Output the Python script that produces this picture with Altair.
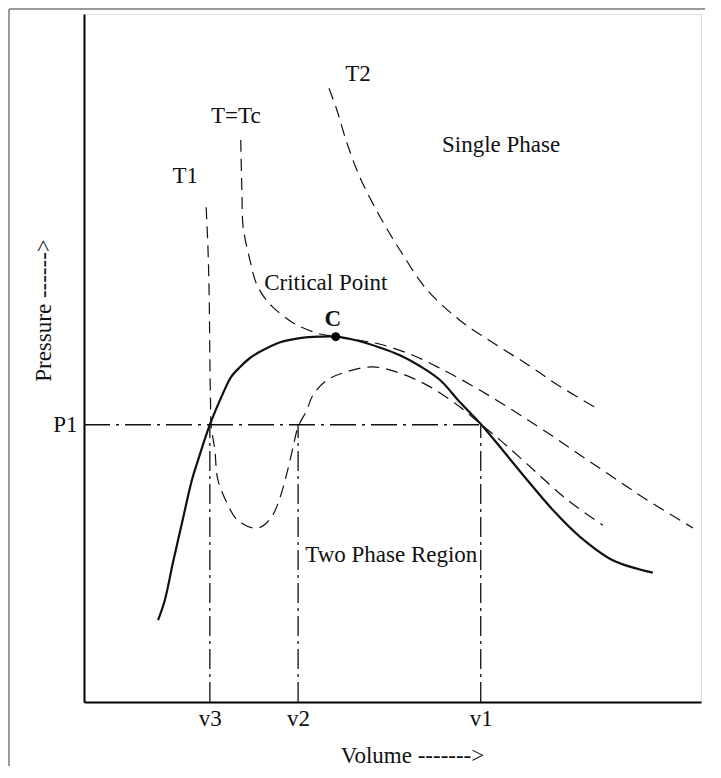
import altair as alt
import pandas as pd

# ---- values (volume / pressure in arbitrary units 0-10) ----
sat_v = [1.20, 1.31, 1.44, 1.60, 1.75, 1.85, 2.04, 2.26, 2.38, 2.53, 2.69, 2.85, 3.18,
         3.50, 3.82, 4.08, 4.44, 4.80, 5.12, 5.45, 5.77, 6.09, 6.43, 6.74, 7.18, 7.60, 8.04,
         8.57, 9.22]
sat_p = [1.19, 1.48, 2.02, 2.65, 3.23, 3.52, 4.03, 4.50, 4.72, 4.87, 5.00, 5.09, 5.23,
         5.29, 5.31, 5.31, 5.25, 5.15, 5.04, 4.88, 4.68, 4.36, 4.04, 3.71, 3.23, 2.79, 2.40,
         2.06, 1.88]

t1_v = [1.98, 2.01, 2.03, 2.04, 2.05, 2.06, 2.12, 2.17, 2.32, 2.48, 2.74, 2.90, 3.06, 3.18, 3.29,
        3.39, 3.47, 3.61, 3.71, 3.94, 4.26, 4.68, 5.12, 5.61, 6.09, 6.43, 6.74, 7.23, 7.83, 8.41]
t1_p = [7.19, 6.57, 5.84, 4.97, 4.39, 4.03, 3.66, 3.23, 2.89, 2.65, 2.53, 2.56, 2.72, 2.98, 3.33,
        3.71, 4.00, 4.24, 4.46, 4.68, 4.80, 4.87, 4.78, 4.58, 4.29, 4.04, 3.81, 3.42, 2.94, 2.57]

tc_v = [2.54, 2.56, 2.58, 2.69, 2.79, 2.93, 3.06, 3.39, 3.78, 4.08, 4.44, 4.80, 5.33, 5.88,
        6.42, 6.95, 7.50, 8.04, 8.57, 9.12, 9.87]
tc_p = [8.17, 7.40, 6.90, 6.42, 6.09, 5.87, 5.74, 5.51, 5.36, 5.31, 5.26, 5.20, 5.04, 4.80,
        4.53, 4.24, 3.92, 3.59, 3.27, 2.94, 2.53]

t2_v = [3.97, 4.10, 4.26, 4.47, 4.80, 5.12, 5.56, 6.09, 6.63, 7.18, 7.71, 8.31]
t2_p = [8.92, 8.60, 8.13, 7.63, 7.05, 6.57, 5.99, 5.55, 5.22, 4.91, 4.59, 4.27]

crit_v = [4.08]
crit_p = [5.31]

v_ticks = [2.04, 3.47, 6.43]
v_names = ["v3", "v2", "v1"]
p1_value = 4.03

label_text = ["T1", "T=Tc", "T2", "Single Phase", "Critical Point", "Two Phase Region"]
label_v = [1.64, 2.46, 4.44, 6.76, 3.92, 4.98]
label_p = [7.65, 8.52, 9.13, 8.10, 6.09, 2.14]

# ---- tables ----
def curve(name, vs, ps):
    return pd.DataFrame({"curve": name, "v": vs, "p": ps, "i": range(len(vs))})

solid_df = curve("sat", sat_v, sat_p)
iso_df = pd.concat([curve("T1", t1_v, t1_p), curve("Tc", tc_v, tc_p), curve("T2", t2_v, t2_p)])
crit_df = pd.DataFrame({"v": crit_v, "p": crit_p, "name": ["C"]})
labels_df = pd.DataFrame({"t": label_text, "v": label_v, "p": label_p})
hline_df = pd.DataFrame({"v": [0.0], "v2": [max(v_ticks)], "p": [p1_value]})
vline_df = pd.DataFrame({"v": v_ticks, "p": [0.0] * 3, "p2": [p1_value] * 3})

FONT = "Liberation Serif"
INK = "#111111"
FS = 23

xs = alt.Scale(domain=[0, 10], nice=False, zero=False)
ys = alt.Scale(domain=[0, 10], nice=False, zero=False)

label_expr = "datum.value < 2.8 ? 'v3' : (datum.value < 5 ? 'v2' : 'v1')"

xaxis = alt.Axis(values=v_ticks, labelExpr=label_expr, grid=False, ticks=False,
                 domainColor="black", domainWidth=2, labelFont=FONT, labelFontSize=FS,
                 labelColor=INK, labelPadding=5, title="Volume  ------->", titleFont=FONT,
                 titleFontSize=FS, titleFontWeight="normal", titleColor=INK,
                 titleX=328, titleY=60, titleBaseline="alphabetic", titleAlign="center")
yaxis = alt.Axis(values=[p1_value], labelExpr="'P1'", grid=False, ticks=False,
                 domainColor="black", domainWidth=2, labelFont=FONT, labelFontSize=FS,
                 labelColor=INK, labelPadding=7, title="Pressure  ------>", titleFont=FONT,
                 titleFontSize=FS, titleFontWeight="normal", titleColor=INK,
                 titleAngle=270, titleX=-41, titleY=296, titleAlign="center",
                 titleBaseline="middle")

base_x = alt.X("v:Q", scale=xs, axis=xaxis)
base_y = alt.Y("p:Q", scale=ys, axis=yaxis)

solid = alt.Chart(solid_df).mark_line(color=INK, strokeWidth=2.2, interpolate="catmull-rom").encode(
    x=base_x, y=base_y, order="i:Q")

iso = alt.Chart(iso_df).mark_line(color=INK, strokeWidth=1.2, strokeDash=[12, 7],
                                  interpolate="catmull-rom").encode(
    x=alt.X("v:Q", scale=xs), y=alt.Y("p:Q", scale=ys), detail="curve:N", order="i:Q")

hline = alt.Chart(hline_df).mark_rule(color=INK, strokeWidth=1.3, strokeDash=[26, 6, 3, 6]).encode(
    x=alt.X("v:Q", scale=xs), x2="v2:Q", y=alt.Y("p:Q", scale=ys))

vline = alt.Chart(vline_df).mark_rule(color=INK, strokeWidth=1.3, strokeDash=[20, 5, 3, 5]).encode(
    x=alt.X("v:Q", scale=xs), y=alt.Y("p:Q", scale=ys), y2="p2:Q")

crit = alt.Chart(crit_df).mark_circle(color="black", size=80, opacity=1).encode(
    x=alt.X("v:Q", scale=xs), y=alt.Y("p:Q", scale=ys))

crit_lab = alt.Chart(crit_df).mark_text(font=FONT, fontSize=FS, fontWeight="bold", color=INK,
                                        baseline="alphabetic", dx=-3, dy=-11).encode(
    x=alt.X("v:Q", scale=xs), y=alt.Y("p:Q", scale=ys), text="name:N")

labels = alt.Chart(labels_df).mark_text(font=FONT, fontSize=FS, color=INK,
                                        baseline="middle", align="center").encode(
    x=alt.X("v:Q", scale=xs), y=alt.Y("p:Q", scale=ys), text="t:N")

# decorative page frame (left and top edges)
frame_left = alt.Chart(crit_df).mark_rule(color="#7a7a7a", strokeWidth=1.5).encode(
    x=alt.value(-75), y=alt.value(-5), y2=alt.value(760))
frame_top = alt.Chart(crit_df).mark_rule(color="#7a7a7a", strokeWidth=1.5).encode(
    x=alt.value(-75), x2=alt.value(636), y=alt.value(-5))

chart = alt.layer(solid, iso, hline, vline, crit, crit_lab, labels, frame_left, frame_top).properties(
    width=617, height=688,
    autosize=alt.AutoSizeParams(type="none"),
    padding={"left": 76, "top": 6, "right": 4, "bottom": 64},
).configure_view(stroke=None).configure(background="white")

chart.save("out.html", embed_options={"renderer": "svg", "actions": False})
